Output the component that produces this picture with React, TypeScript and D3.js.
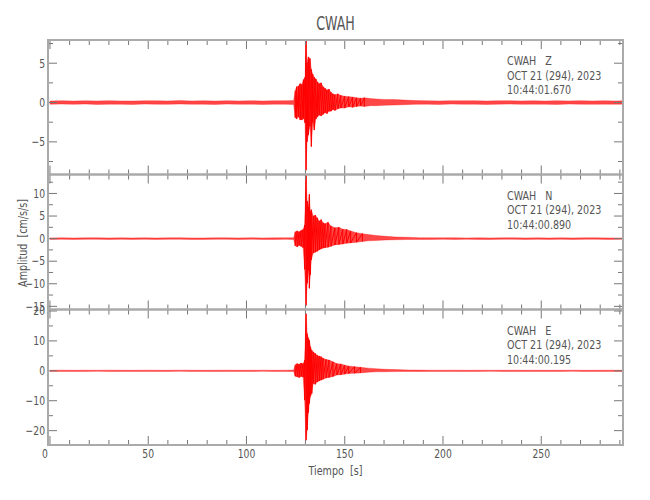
import React from 'react';
import * as d3 from 'd3';

const station = 'CWAH';
const componentNames = ['Z', 'N', 'E'];
const startTimes = ['10:44:01.670', '10:44:00.890', '10:44:00.195'];
const dateLabel = 'OCT 21 (294), 2023';
const xLabel = 'Tiempo  [s]';
const yLabel = 'Amplitud  [cm/s/s]';
const xMajorTicks = [0, 50, 100, 150, 200, 250];
const xMinorTicks = d3.range(0, 291, 10);
const xDomain = [-1, 291.6];
const eventWindow = [124.5, 160];

const zDomain = [-9.15, 7.95];
const nDomain = [-15.7, 14.2];
const eDomain = [-24.8, 20.5];
const zMajor = [-5, 0, 5];
const nMajor = [-15, -10, -5, 0, 5, 10];
const eMajor = [-20, -10, 0, 10, 20];
const zMinorStep = 2.5;
const nMinorStep = 2.5;
const eMinorStep = 5;

const zTime = [0,6,12,18,24,30,36,42,48,54,60,66,72,78,84,90,96,102,108,114,120,124,
  124.8,125.5,126.5,127.3,128.2,129,129.8,130.3,130.8,131.5,132.3,133,133.7,134.5,135.3,136.2,137,138,139,140,141,142,143,144,145,146.5,148,150,152,154,156,158,160,163,166,170,175,180,
  186,192,198,204,210,216,222,228,234,240,246,252,258,264,270,276,282,288,291.5];
const zMax = [.2,.23,.19,.22,.2,.24,.21,.19,.23,.22,.2,.25,.21,.22,.19,.23,.21,.23,.2,.22,.24,.26,
  1.5,2.0,2.1,2.4,2.3,2.9,3.2,7.95,5.0,5.8,5.6,4.2,3.6,3.2,3.0,2.6,2.4,2.5,2.0,1.8,1.6,1.7,1.3,1.1,1.0,1.1,0.9,0.8,0.75,0.7,0.6,0.55,0.6,0.5,0.45,0.4,0.38,0.32,
  .25,.22,.21,.23,.22,.24,.2,.22,.24,.21,.22,.19,.23,.21,.24,.21,.22,.2,.22];
const zMin = [-.22,-.2,-.23,-.19,-.24,-.21,-.22,-.24,-.2,-.21,-.23,-.19,-.22,-.21,-.24,-.2,-.22,-.21,-.24,-.21,-.22,-.26,
  -1.9,-2.1,-1.8,-2.2,-2.2,-2.0,-2.6,-8.6,-5.0,-4.1,-3.0,-5.6,-2.5,-3.5,-2.1,-1.8,-1.6,-1.7,-1.5,-1.3,-1.4,-1.1,-1.1,-0.9,-1.0,-0.8,-0.7,-0.7,-0.55,-0.6,-0.5,-0.45,-0.5,-0.4,-0.4,-0.36,-0.32,-0.28,
  -.23,-.21,-.24,-.2,-.22,-.21,-.24,-.21,-.2,-.23,-.21,-.22,-.24,-.2,-.21,-.23,-.21,-.22,-.21];

const nTime = [0,6,12,18,24,30,36,42,48,54,60,66,72,78,84,90,96,102,108,114,120,124,
  124.8,125.8,126.8,127.8,128.8,129.6,130.3,130.9,131.5,132,132.5,133,134,135,136,137,138,139,140,141.5,143,145,147,149,151,153,156,159,162,166,171,176,182,
  188,194,200,206,212,218,224,230,236,242,248,254,260,266,272,278,284,291.5];
const nMax = [.16,.18,.15,.17,.19,.15,.17,.16,.18,.15,.17,.19,.16,.15,.18,.17,.16,.19,.15,.17,.18,.2,
  1.5,1.7,1.5,1.8,2.0,3.0,14.0,8.3,7.0,9.8,6.0,6.4,5.0,5.2,4.6,3.9,4.2,3.5,3.3,3.6,2.8,2.4,2.5,2.1,2.0,1.7,1.3,1.1,0.9,0.7,0.5,0.35,0.3,
  .2,.18,.17,.19,.16,.18,.15,.17,.19,.16,.18,.15,.17,.16,.18,.17,.15,.16];
const nMin = [-.17,-.15,-.18,-.16,-.15,-.19,-.16,-.17,-.15,-.18,-.16,-.15,-.19,-.17,-.16,-.15,-.18,-.16,-.17,-.19,-.16,-.2,
  -1.6,-1.8,-1.5,-1.7,-2.0,-6.8,-14.8,-9.9,-7.0,-11.0,-8.0,-4.7,-3.2,-3.0,-2.8,-2.5,-2.3,-2.1,-2.0,-1.9,-1.7,-1.4,-1.3,-1.2,-1.0,-0.95,-0.8,-0.65,-0.5,-0.4,-0.3,-0.25,-0.2,
  -.19,-.17,-.16,-.18,-.15,-.17,-.19,-.16,-.15,-.18,-.16,-.17,-.15,-.18,-.16,-.15,-.17,-.16];

const eTime = [0,6,12,18,24,30,36,42,48,54,60,66,72,78,84,90,96,102,108,114,120,124,
  124.8,125.8,126.8,127.8,128.8,129.6,130.3,130.9,131.5,132,132.6,133.2,134,135,136,137,138,139,140.5,142,144,146,148,150,152,155,158,162,166,171,176,182,
  188,194,200,206,212,218,224,230,236,242,248,254,260,266,272,278,284,291.5];
const eMax = [.2,.22,.18,.21,.19,.23,.2,.18,.22,.2,.19,.23,.21,.18,.2,.22,.19,.21,.2,.18,.22,.25,
  2.0,2.4,2.2,2.6,2.4,3.5,19.1,12.4,11.0,10.2,8.0,6.9,6.3,5.8,5.2,4.9,4.7,4.2,3.8,3.6,3.0,2.4,2.3,1.9,1.6,1.4,1.2,0.9,0.7,0.5,0.4,0.3,
  .24,.21,.2,.22,.19,.21,.18,.2,.22,.19,.21,.18,.2,.22,.19,.2,.21,.2];
const eMin = [-.21,-.19,-.22,-.2,-.18,-.22,-.2,-.21,-.19,-.22,-.2,-.18,-.21,-.2,-.22,-.19,-.2,-.21,-.18,-.22,-.2,-.24,
  -1.8,-2.0,-2.2,-1.9,-2.1,-9.8,-23.2,-19.8,-14.0,-10.9,-8.5,-7.6,-4.2,-4.5,-3.7,-3.4,-3.1,-2.8,-2.4,-2.2,-1.9,-1.4,-1.3,-1.1,-0.9,-0.8,-0.7,-0.45,-0.35,-0.3,-0.25,-0.2,
  -.23,-.2,-.21,-.19,-.22,-.2,-.18,-.21,-.2,-.22,-.19,-.21,-.2,-.18,-.21,-.2,-.19,-.2];

const W = 650, H = 500;
const L = 48, R = 623;
const panelEdges = [40, 174.5, 309.5, 445];
const FONT = "'DejaVu Sans Condensed', 'DejaVu Sans', sans-serif";
const FRAME = '#aaaaaa';
const TICK = '#777777';
const TEXT = '#555555';

type Panel = { name: string; time: string; domain: number[]; major: number[]; minorStep: number; t: number[]; mx: number[]; mn: number[] };

const panels: Panel[] = [
  { name: componentNames[0], time: startTimes[0], domain: zDomain, major: zMajor, minorStep: zMinorStep, t: zTime, mx: zMax, mn: zMin },
  { name: componentNames[1], time: startTimes[1], domain: nDomain, major: nMajor, minorStep: nMinorStep, t: nTime, mx: nMax, mn: nMin },
  { name: componentNames[2], time: startTimes[2], domain: eDomain, major: eMajor, minorStep: eMinorStep, t: eTime, mx: eMax, mn: eMin },
];

const fmt = (v: number) => (v < 0 ? '\u2212' + Math.abs(v) : String(v));

function NarrowText({ x, y, sx = 0.82, anchor = 'start', size = 12, children, rotate = 0 }: any) {
  return (
    <text transform={`translate(${x},${y}) rotate(${rotate}) scale(${sx},1)`} textAnchor={anchor} fontSize={size} fill={TEXT} xmlSpace="preserve">{children}</text>
  );
}

export default function App() {
  const x = d3.scaleLinear().domain(xDomain).range([L, R]);
  return (
    <svg width={W} height={H} style={{ position: 'absolute', left: 0, top: 0, background: '#fff' }} fontFamily={FONT}>
      <rect x={0} y={0} width={W} height={H} fill="#fff" />
      <NarrowText x={(L + R) / 2} y={30} sx={0.7} anchor="middle" size={20}>{station}</NarrowText>
      {panels.map((p, i) => {
        const top = panelEdges[i], bot = panelEdges[i + 1];
        const y = d3.scaleLinear().domain(p.domain).range([bot, top]);
        const idx = d3.range(p.t.length);
        const area = d3.area<number>().x(k => x(p.t[k])).y0(k => y(p.mn[k])).y1(k => y(p.mx[k]))(idx) || '';
        const zig: [number, number][] = [];
        idx.filter(k => p.t[k] >= eventWindow[0] && p.t[k] <= eventWindow[1]).forEach(k => {
          zig.push([x(p.t[k]), y(p.mx[k])]);
          zig.push([x(p.t[k]), y(p.mn[k])]);
        });
        const zigPath = d3.line()(zig) || '';
        const minors = d3.range(Math.ceil(p.domain[0] / p.minorStep) * p.minorStep, p.domain[1], p.minorStep).filter(v => !p.major.includes(v));
        const clipId = 'clip' + i;
        return (
          <g key={i}>
            <clipPath id={clipId}><rect x={L} y={top} width={R - L} height={bot - top} /></clipPath>
            <g clipPath={`url(#${clipId})`}>
              <path d={area} fill="#ff0000" fillOpacity={0.72} stroke="#ff0000" strokeOpacity={0.5} strokeWidth={0.6} />
              <path d={zigPath} fill="none" stroke="#ff0000" strokeWidth={1} />
            </g>
            {xMinorTicks.filter(v => !xMajorTicks.includes(v)).map(v => (
              <g key={'xm' + v}>
                <line x1={x(v)} x2={x(v)} y1={top} y2={top + 5} stroke={TICK} />
                <line x1={x(v)} x2={x(v)} y1={bot} y2={bot - 5} stroke={TICK} />
              </g>
            ))}
            {xMajorTicks.map(v => (
              <g key={'xM' + v}>
                <line x1={x(v)} x2={x(v)} y1={top} y2={top + 9} stroke={TICK} />
                <line x1={x(v)} x2={x(v)} y1={bot} y2={bot - 9} stroke={TICK} />
              </g>
            ))}
            {minors.map(v => (
              <g key={'ym' + v}>
                <line x1={L} x2={L + 5} y1={y(v)} y2={y(v)} stroke={TICK} />
                <line x1={R} x2={R - 5} y1={y(v)} y2={y(v)} stroke={TICK} />
              </g>
            ))}
            {p.major.map(v => (
              <g key={'yM' + v}>
                <line x1={L} x2={L + 9} y1={y(v)} y2={y(v)} stroke={TICK} />
                <line x1={R} x2={R - 9} y1={y(v)} y2={y(v)} stroke={TICK} />
                <NarrowText x={45} y={y(v) + 4.3} anchor="end" size={12.5}>{fmt(v)}</NarrowText>
              </g>
            ))}
            <rect x={L} y={top} width={R - L} height={bot - top} fill="none" stroke={FRAME} strokeWidth={2} />
            <NarrowText x={507} y={top + 25} size={12.5} sx={0.85}>{station + '   ' + p.name}</NarrowText>
            <NarrowText x={507} y={top + 39.5} size={12.5} sx={0.85}>{dateLabel}</NarrowText>
            <NarrowText x={507} y={top + 54} size={12.5} sx={0.85}>{p.time}</NarrowText>
          </g>
        );
      })}
      {xMajorTicks.map(v => (
        <NarrowText key={'xl' + v} x={x(v) - (v === 0 ? 5 : 0)} y={458} anchor="middle" size={12.5}>{String(v)}</NarrowText>
      ))}
      <NarrowText x={(L + R) / 2} y={475} anchor="middle" size={13}>{xLabel}</NarrowText>
      <NarrowText x={27} y={243} rotate={-90} anchor="middle" size={13}>{yLabel}</NarrowText>
    </svg>
  );
}
